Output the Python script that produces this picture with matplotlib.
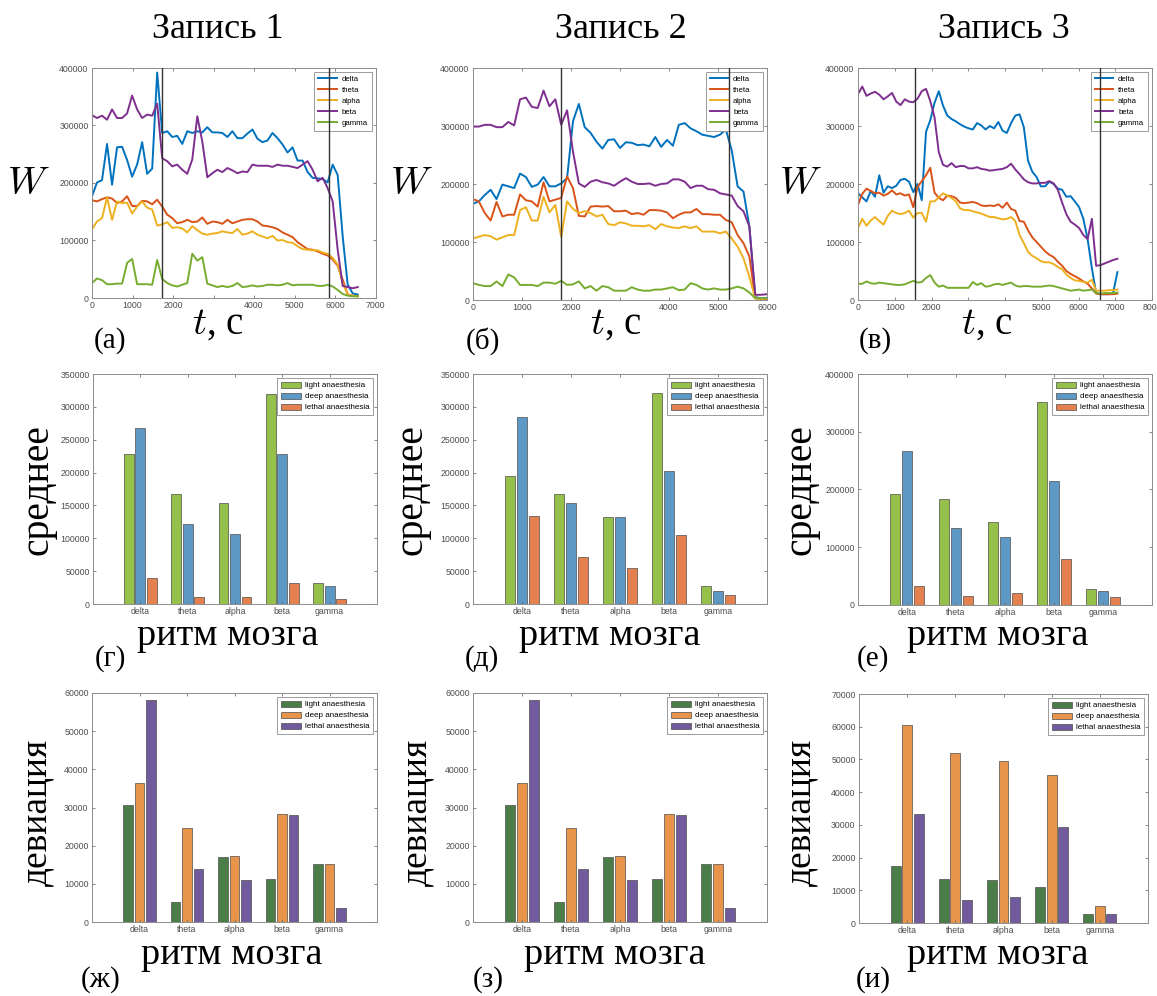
import numpy as np
import matplotlib
matplotlib.use("Agg")
import matplotlib.pyplot as plt
from matplotlib.ticker import FuncFormatter

# ---------------------------------------------------------------- data
# Band power time series, values in thousands (x 1e3).
# Recording 1: sampling step 123.8 s
dt1 = 123.8
delta1 = [177, 201, 205, 268, 197, 262, 263, 240, 211, 232, 271, 216, 225, 392, 287, 290, 280, 282,
          268, 290, 287, 290, 288, 297, 288, 288, 287, 280, 290, 278, 278, 286, 293, 277, 271, 274,
          287, 278, 267, 253, 262, 239, 239, 219, 209, 208, 207, 201, 232, 214, 107, 23, 8, 6]
theta1 = [170, 168, 172, 175, 173, 165, 168, 177, 160, 160, 169, 168, 163, 171, 159, 145, 139, 130,
          132, 136, 132, 133, 140, 129, 133, 132, 129, 136, 130, 133, 136, 137, 137, 133, 126, 125,
          123, 120, 114, 110, 106, 97, 91, 85, 84, 81, 77, 74, 67, 56, 32, 6, 4, 3]
alpha1 = [120, 133, 139, 175, 136, 168, 165, 166, 147, 159, 168, 157, 154, 126, 128, 132, 122, 123,
          121, 114, 125, 118, 112, 110, 112, 113, 116, 114, 113, 120, 110, 112, 116, 110, 107, 104,
          108, 100, 101, 97, 96, 90, 85, 84, 83, 83, 79, 77, 70, 58, 26, 6, 4, 3]
beta1 = [318, 313, 317, 310, 328, 313, 313, 321, 352, 328, 313, 319, 317, 338, 243, 238, 229, 232,
         223, 216, 241, 316, 272, 210, 217, 223, 219, 226, 222, 217, 220, 219, 232, 230, 230, 230,
         228, 232, 230, 230, 228, 226, 232, 238, 223, 203, 209, 191, 168, 84, 21, 19, 17, 19]
gamma1 = [26, 34, 31, 24, 24, 25, 25, 61, 68, 24, 24, 24, 23, 66, 33, 26, 22, 20, 23, 26, 77, 65,
          71, 25, 22, 19, 21, 19, 21, 26, 19, 20, 22, 20, 21, 23, 23, 22, 23, 26, 22, 23, 23, 23,
          23, 21, 21, 23, 20, 14, 7, 4, 3, 3]
marks1 = [1740, 5850]

# Recording 2: sampling step 120 s
dt2 = 120.0
delta2 = [166, 170, 181, 190, 174, 199, 196, 193, 218, 212, 195, 199, 212, 196, 196, 201, 210, 308,
          338, 298, 288, 273, 261, 276, 277, 262, 272, 271, 267, 268, 265, 281, 264, 276, 266, 302,
          305, 296, 291, 285, 283, 281, 285, 294, 258, 196, 187, 127, 5, 3, 3]
theta2 = [174, 170, 150, 137, 169, 144, 147, 147, 182, 172, 170, 161, 203, 170, 173, 176, 213, 193,
          145, 144, 161, 162, 161, 162, 153, 153, 154, 148, 150, 147, 155, 155, 154, 151, 141, 147,
          151, 151, 157, 148, 148, 147, 147, 138, 134, 112, 98, 75, 3, 2, 2]
alpha2 = [106, 109, 112, 110, 104, 108, 112, 112, 155, 160, 137, 137, 178, 151, 164, 109, 170, 157,
          150, 153, 150, 144, 147, 131, 129, 134, 132, 128, 128, 127, 129, 122, 131, 127, 125, 124,
          127, 124, 127, 118, 118, 118, 115, 118, 106, 92, 72, 40, 3, 2, 2]
beta2 = [299, 299, 302, 302, 298, 298, 307, 301, 346, 349, 333, 331, 361, 334, 346, 302, 327, 256,
         201, 195, 204, 207, 203, 201, 197, 204, 210, 204, 200, 200, 201, 197, 200, 201, 208, 208,
         204, 193, 197, 197, 191, 190, 184, 182, 180, 162, 153, 127, 9, 9, 10]
gamma2 = [29, 26, 24, 24, 32, 24, 44, 39, 26, 26, 26, 24, 30, 30, 28, 33, 26, 27, 32, 20, 24, 16,
          24, 22, 16, 16, 16, 22, 18, 16, 16, 18, 18, 20, 22, 17, 18, 29, 26, 20, 18, 20, 18, 18,
          20, 23, 20, 13, 3, 3, 3]
marks2 = [1796, 5231]

# Recording 3: sampling step 115.7 s
dt3 = 115.7
delta3 = [184, 177, 170, 188, 178, 215, 185, 196, 193, 197, 207, 209, 204, 186, 200, 172, 290, 310,
          340, 360, 335, 318, 312, 308, 303, 299, 296, 294, 305, 301, 294, 300, 296, 307, 292,
          288, 305, 318, 320, 298, 240, 221, 212, 196, 196, 204, 200, 192, 190, 178, 179, 170, 160,
          140, 105, 55, 12, 10, 10, 10, 12, 48]
theta3 = [164, 183, 192, 188, 184, 185, 180, 183, 189, 182, 184, 180, 182, 160, 195, 205, 215, 228,
          185, 176, 172, 180, 179, 176, 168, 167, 168, 169, 167, 163, 162, 163, 162, 165, 159,
          168, 157, 154, 136, 135, 120, 108, 100, 92, 84, 78, 74, 66, 59, 50, 45, 41, 37, 32, 28,
          20, 11, 10, 10, 10, 10, 11]
alpha3 = [124, 140, 128, 137, 143, 136, 130, 145, 154, 150, 148, 150, 154, 142, 150, 150, 135, 170,
          170, 177, 184, 180, 176, 170, 158, 155, 155, 153, 151, 149, 146, 143, 143, 141, 139,
          140, 143, 136, 112, 98, 83, 76, 72, 67, 65, 65, 62, 57, 53, 44, 38, 34, 33, 31, 30, 35,
          16, 16, 16, 17, 17, 18]
beta3 = [355, 368, 352, 356, 359, 354, 346, 351, 357, 342, 336, 346, 342, 341, 347, 360, 364, 343,
         315, 255, 233, 230, 236, 229, 231, 231, 227, 227, 229, 226, 225, 223, 224, 225, 226,
         229, 235, 225, 217, 208, 203, 201, 201, 202, 202, 205, 201, 190, 168, 148, 135, 130, 124,
         112, 105, 140, 59, 60, 63, 66, 69, 71]
gamma3 = [28, 28, 32, 29, 28, 30, 29, 28, 27, 26, 26, 27, 30, 33, 30, 31, 38, 43, 30, 23, 25, 21,
          21, 21, 21, 21, 21, 31, 26, 29, 23, 24, 27, 28, 26,
          28, 30, 25, 23, 24, 24, 23, 23, 23, 24, 25, 24, 22, 20, 18, 16, 17, 18, 16, 17, 18, 12,
          11, 12, 12, 12, 13]
marks3 = [1550, 6585]

bands = ["delta", "theta", "alpha", "beta", "gamma"]
stages = ["light anaesthesia", "deep anaesthesia", "lethal anaesthesia"]

# Mean power per band and stage (thousands)
mean1_light = [228, 168, 153, 320, 32]
mean1_deep = [268, 121, 106, 229, 28]
mean1_lethal = [40, 11, 10.6, 32, 7.6]
mean2_light = [195, 168, 132, 321, 28]
mean2_deep = [284, 153, 132, 202, 20]
mean2_lethal = [134, 71, 55, 105, 13]
mean3_light = [192, 183, 143, 351, 28]
mean3_deep = [267, 133, 117, 215, 24]
mean3_lethal = [33, 16, 21, 79, 13]

# Standard deviation per band and stage (thousands)
dev1_light = [30.6, 5.2, 16.9, 11.2, 15.1]
dev1_deep = [36.3, 24.7, 17.4, 28.4, 15.3]
dev1_lethal = [58.2, 14.0, 11.0, 28.0, 3.6]
dev2_light = [30.6, 5.2, 16.9, 11.2, 15.1]
dev2_deep = [36.3, 24.7, 17.4, 28.4, 15.3]
dev2_lethal = [58.2, 14.0, 11.0, 28.0, 3.6]
dev3_light = [17.5, 13.3, 13.1, 10.9, 2.9]
dev3_deep = [60.5, 51.9, 49.4, 45.2, 5.3]
dev3_lethal = [33.2, 7.1, 8.0, 29.4, 2.6]

# ---------------------------------------------------------------- style
SERIF = "Liberation Serif"
SANS = "Liberation Sans"
plt.rcParams["font.family"] = SANS
plt.rcParams["mathtext.fontset"] = "cm"

band_colors = ["#0072BD", "#D95319", "#EDB120", "#7E2F8E", "#77AC30"]
mean_colors = ["#95C04A", "#5E98C4", "#E5804F"]
dev_colors = ["#4A7D48", "#E8944A", "#725B9C"]

W, H = 1157, 996
fig = plt.figure(figsize=(W / 100, H / 100), dpi=100)


def add_ax(l, t, r, b):
    return fig.add_axes([l / W, 1 - b / H, (r - l) / W, (b - t) / H])


def big_text(x, y, s, size, **kw):
    fig.text(x / W, 1 - y / H, s, fontsize=size, family=SERIF,
             ha="center", va="center", **kw)


def style(ax):
    for sp in ax.spines.values():
        sp.set_color("0.55")
        sp.set_linewidth(0.7)
    ax.tick_params(direction="in", length=2.5, width=0.6, color="0.45",
                   labelsize=6.3, labelcolor="0.3", top=True, right=True, pad=2.5)
    ax.yaxis.set_major_formatter(FuncFormatter(lambda v, _: f"{v:.0f}"))


def line_panel(box, dt, series, marks, xmax, hidden):
    ax = add_ax(*box)
    t = np.arange(len(series[0])) * dt
    for name, vals, c in zip(bands, series, band_colors):
        ax.plot(t, np.asarray(vals) * 1e3, color=c, lw=1.4, label=name)
    ax.set_xlim(0, xmax)
    ax.set_ylim(0, 400000)
    xt = np.arange(0, xmax + 1, 1000)
    ax.set_xticks(xt)
    # tick labels sitting under the axis label are left empty
    ax.set_xticklabels(["" if v in hidden else f"{v:d}" for v in xt])
    ax.set_yticks(np.arange(0, 400001, 100000))
    style(ax)
    leg = ax.legend(loc="upper right", fontsize=5.6, handlelength=2.4,
                    fancybox=False, edgecolor="0.55", framealpha=1,
                    borderpad=0.5, labelspacing=0.45, handletextpad=0.6,
                    borderaxespad=0.5)
    leg.get_frame().set_linewidth(0.6)
    for m in marks:
        ax.axvline(m, color="0.2", lw=1.0, zorder=6)
    return ax


def bar_panel(box, groups, colors, ymax, ystep):
    ax = add_ax(*box)
    x = np.arange(1, len(bands) + 1)
    offs = [-0.24, 0.0, 0.24]
    for vals, c, off, lab in zip(groups, colors, offs, stages):
        ax.bar(x + off, np.asarray(vals) * 1e3, 0.205, color=c,
               edgecolor="0.3", linewidth=0.5, label=lab)
    ax.set_xlim(0, 6)
    ax.set_ylim(0, ymax)
    ax.set_xticks(x)
    ax.set_xticklabels(bands)
    ax.set_yticks(np.arange(0, ymax + 1, ystep))
    style(ax)
    leg = ax.legend(loc="upper right", fontsize=5.8, handlelength=2.5,
                    handleheight=0.75, fancybox=False, edgecolor="0.55",
                    framealpha=1, borderpad=0.45, labelspacing=0.4,
                    handletextpad=0.5, borderaxespad=0.5)
    leg.get_frame().set_linewidth(0.6)
    return ax


# ---------------------------------------------------------------- top row: time series
line_panel((92, 68, 375.5, 298), dt1, [delta1, theta1, alpha1, beta1, gamma1], marks1, 7000,
           {3000})
line_panel((473, 68, 767, 300), dt2, [delta2, theta2, alpha2, beta2, gamma2], marks2, 6000,
           {3000})
line_panel((858, 68, 1152, 300), dt3, [delta3, theta3, alpha3, beta3, gamma3], marks3, 8000,
           {3000, 4000})

# ---------------------------------------------------------------- middle row: means
bar_panel((93, 374, 377, 604), [mean1_light, mean1_deep, mean1_lethal], mean_colors, 350000, 50000)
bar_panel((473, 374, 767, 604), [mean2_light, mean2_deep, mean2_lethal], mean_colors, 350000, 50000)
bar_panel((858, 374, 1152, 605), [mean3_light, mean3_deep, mean3_lethal], mean_colors, 400000, 100000)

# ---------------------------------------------------------------- bottom row: deviations
bar_panel((92, 693, 377, 922), [dev1_light, dev1_deep, dev1_lethal], dev_colors, 60000, 10000)
bar_panel((473, 693, 767, 922), [dev2_light, dev2_deep, dev2_lethal], dev_colors, 60000, 10000)
bar_panel((859, 694, 1148, 923), [dev3_light, dev3_deep, dev3_lethal], dev_colors, 70000, 10000)

# ---------------------------------------------------------------- labels
for cx, title in zip([218, 621, 1004], ["Запись 1", "Запись 2", "Запись 3"]):
    big_text(cx, 30, title, 26)

for wx, tx, px, lab in zip([28, 411, 800], [218, 616, 987], [110, 483, 875], ["(а)", "(б)", "(в)"]):
    big_text(wx, 185, r"$W$", 28)
    big_text(tx, 324, r"$t$, с", 28)
    big_text(px, 341, lab, 21)

for yx, rx, px, lab in zip([38, 412, 801], [228, 610, 998], [110, 482, 873], ["(г)", "(д)", "(е)"]):
    big_text(yx, 490, "среднее", 28.5, rotation=90)
    big_text(rx, 636, "ритм мозга", 27.5)
    big_text(px, 659, lab, 21)

for yx, rx, px, lab in zip([37, 417, 801], [232, 615, 998], [101, 488, 873], ["(ж)", "(з)", "(и)"]):
    big_text(yx, 812, "девиация", 27, rotation=90)
    big_text(rx, 955, "ритм мозга", 27.5)
    big_text(px, 980, lab, 21)

fig.savefig("out.png", dpi=100)
